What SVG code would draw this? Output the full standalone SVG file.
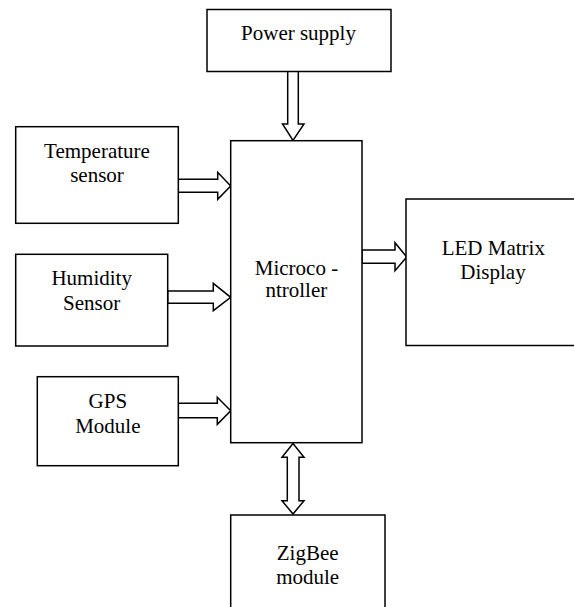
<svg xmlns="http://www.w3.org/2000/svg" width="574" height="607" viewBox="0 0 574 607">
<style>
.box{fill:#fff;stroke:#000;stroke-width:1.5}
.arr{fill:#fff;stroke:#000;stroke-width:1.5;stroke-linejoin:miter}
.t{font-family:'Liberation Serif','DejaVu Serif',serif;font-size:21px;fill:#000;text-anchor:middle}
</style>
<rect width="574" height="607" fill="#fff"/>
<g id="connectors">
<polygon class="arr" points="287.7,71 298.3,71 298.3,124 304,124 293,140.5 282.5,124 287.7,124"/>
<polygon class="arr" points="178.3,179.3 217.7,179.3 217.7,172.3 230.7,186 217.7,199.3 217.7,192.3 178.3,192.3"/>
<polygon class="arr" points="167.7,291 213.3,291 213.3,283.3 230.7,297.3 213.3,310.7 213.3,303.3 167.7,303.3"/>
<polygon class="arr" points="178.3,403.3 217.3,403.3 217.3,397.3 230.7,410.7 217.3,424.3 217.3,417.7 178.3,417.7"/>
<polygon class="arr" points="362,250 395,250 395,242.7 406.7,257 395,270.7 395,263.3 362,263.3"/>
<polygon class="arr" points="293,443.5 304,457.3 299,457.3 299,500.7 304,500.7 293,514 282,500.7 287.3,500.7 287.3,457.3 282,457.3"/>
</g>
<g id="power">
<rect class="box" x="207" y="9.5" width="184" height="62"/>
<text class="t" font-family="Liberation Serif" x="298.5" y="39.5">Power supply</text>
</g>
<g id="temperature">
<rect class="box" x="15.7" y="126.7" width="162.6" height="96.6"/>
<text class="t" font-family="Liberation Serif" x="97" y="158.3">Temperature</text>
<text class="t" font-family="Liberation Serif" x="97" y="181.7">sensor</text>
</g>
<g id="humidity">
<rect class="box" x="15.7" y="254.3" width="152" height="91.7"/>
<text class="t" font-family="Liberation Serif" x="91.7" y="285">Humidity</text>
<text class="t" font-family="Liberation Serif" x="91.7" y="309.5">Sensor</text>
</g>
<g id="gps">
<rect class="box" x="37.3" y="376.7" width="141" height="89"/>
<text class="t" font-family="Liberation Serif" x="107.8" y="408.3">GPS</text>
<text class="t" font-family="Liberation Serif" x="107.8" y="432.7">Module</text>
</g>
<g id="microcontroller">
<rect class="box" x="230.7" y="140.7" width="131.3" height="302"/>
<text class="t" font-family="Liberation Serif" x="296.5" y="274.5">Microco -</text>
<text class="t" font-family="Liberation Serif" x="296.3" y="297">ntroller</text>
</g>
<g id="led">
<rect class="box" x="406" y="199" width="180" height="146.5"/>
<text class="t" font-family="Liberation Serif" x="493.3" y="255">LED Matrix</text>
<text class="t" font-family="Liberation Serif" x="493" y="279">Display</text>
</g>
<g id="zigbee">
<rect class="box" x="230.7" y="515" width="154.3" height="110"/>
<text class="t" font-family="Liberation Serif" x="307.7" y="560">ZigBee</text>
<text class="t" font-family="Liberation Serif" x="307.7" y="584">module</text>
</g>
</svg>
